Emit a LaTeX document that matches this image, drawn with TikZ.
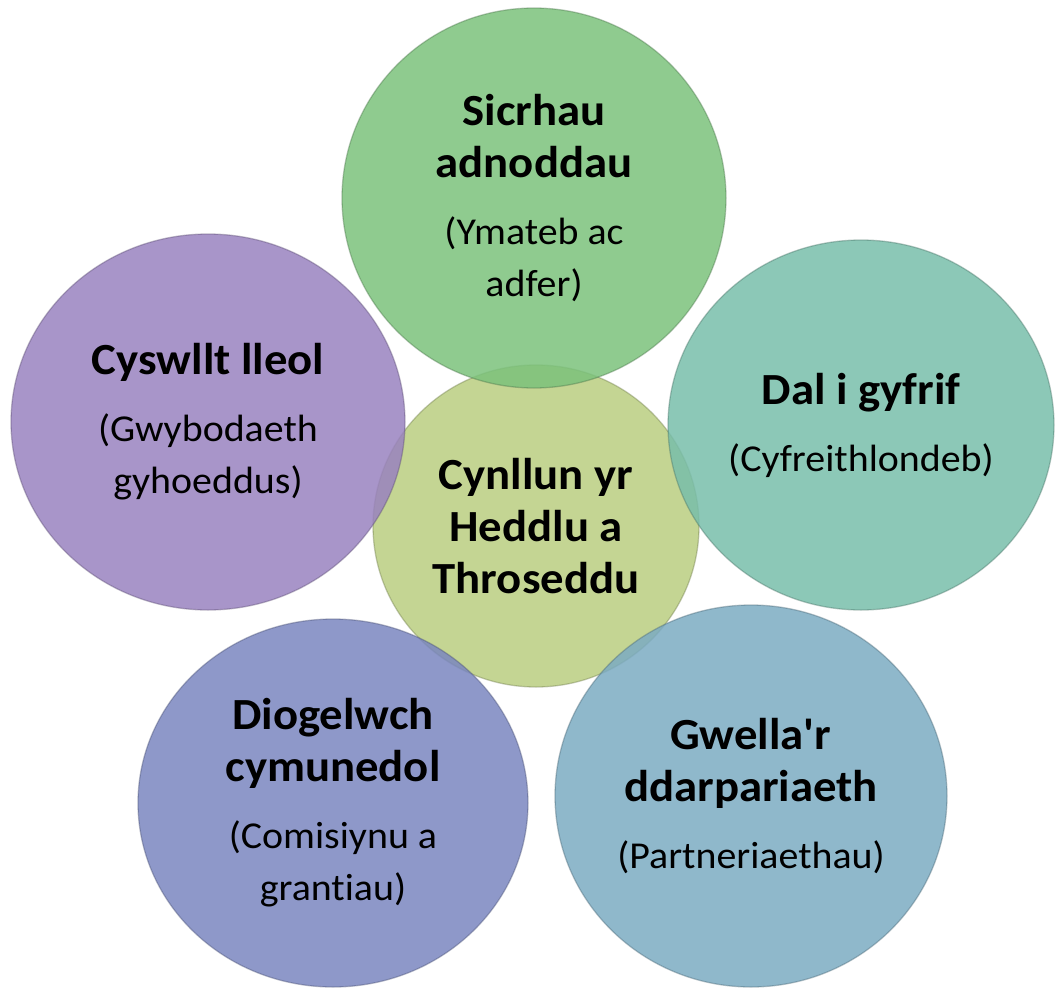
\documentclass[tikz,border=0pt]{standalone}
\usepackage{fontspec}
\setmainfont{Carlito}[Ligatures={TeXOff,CommonOff}, FakeStretch=1.05]
\usetikzlibrary{shapes.geometric}
\definecolor{cCentre}{RGB}{186,206,128}
\definecolor{cGreen}{RGB}{123,194,123}
\definecolor{cPurple}{RGB}{153,130,191}
\definecolor{cTeal}{RGB}{120,190,170}
\definecolor{cBlue}{RGB}{122,134,191}
\definecolor{cSky}{RGB}{123,171,194}
\newcommand{\subtxt}{\fontsize{38pt}{45pt}\selectfont}
\begin{document}
\begin{tikzpicture}[x=1pt,y=-1pt]
\tikzset{
  bubble/.style={ellipse, inner sep=0pt, outer sep=0pt, align=center,
    fill opacity=0.85, text opacity=1, draw opacity=0.4, line width=1.3pt,
    font=\fontsize{44.5pt}{52pt}\selectfont}
}
\begin{scope}
\path[use as bounding box] (0,0) rectangle (1056,990);
\node[bubble, minimum width=326pt, minimum height=322pt, fill=cCentre, draw=cCentre!60!black]
  (centre) at (536,526) {\bfseries Cynllun yr\\\bfseries Heddlu a\\\bfseries Throseddu};
\node[bubble, minimum width=384pt, minimum height=380pt, fill=cGreen, draw=cGreen!60!black]
  (top) at (534,198) {\bfseries Sicrhau\\\bfseries adnoddau\\[15pt]\subtxt (Ymateb ac\\\subtxt adfer)};
\node[bubble, minimum width=386pt, minimum height=370pt, fill=cTeal, draw=cTeal!60!black]
  (right) at (861,425) {\bfseries Dal i gyfrif\\[15pt]\subtxt (Cyfreithlondeb)};
\node[bubble, minimum width=392pt, minimum height=382pt, fill=cSky, draw=cSky!60!black]
  (botright) at (751,796) {\bfseries Gwella'r\\\bfseries ddarpariaeth\\[15pt]\subtxt (Partneriaethau)};
\node[bubble, minimum width=390pt, minimum height=368pt, fill=cBlue, draw=cBlue!60!black]
  (botleft) at (333,803) {\bfseries Diogelwch\\\bfseries cymunedol\\[15pt]\subtxt (Comisiynu a\\\subtxt grantiau)};
\node[bubble, minimum width=394pt, minimum height=376pt, fill=cPurple, draw=cPurple!60!black]
  (left) at (208,422) {\bfseries Cyswllt lleol\\[15pt]\subtxt (Gwybodaeth\\\subtxt gyhoeddus)};
\end{scope}
\end{tikzpicture}
\end{document}
